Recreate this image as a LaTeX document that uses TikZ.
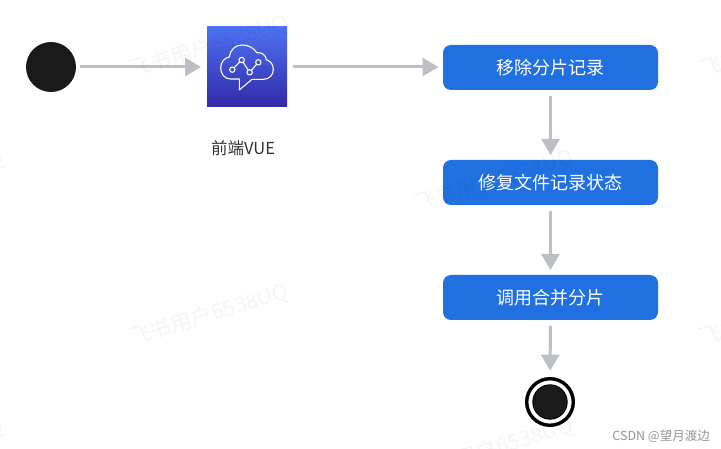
\documentclass[tikz,border=0pt]{standalone}
\usepackage{fontspec}
\setmainfont{Noto Sans CJK SC}
\usetikzlibrary{arrows.meta}
\definecolor{boxblue}{HTML}{2070E2}
\definecolor{arrowgray}{HTML}{BCC0C5}
\definecolor{discblack}{HTML}{1A1A1A}
\definecolor{icontop}{HTML}{4D72F3}
\definecolor{iconbot}{HTML}{3229A8}
\tikzset{
  flowbox/.style={rectangle,rounded corners=8pt,fill=boxblue,minimum width=215pt,minimum height=45pt,inner sep=0pt,outer sep=0pt,text=white,font=\fontsize{18}{20}\selectfont},
  conn/.style={draw=arrowgray,line width=3pt,-{Triangle[length=16pt,width=18pt,fill=arrowgray]}},
  disc/.style={circle,fill=discblack,inner sep=0pt,outer sep=0pt},
  wmark/.style={rotate=17,text=black,opacity=0.04,inner sep=0pt,font=\fontsize{21.5}{23}\selectfont},
  iconline/.style={draw=white,line width=1.1pt,line join=round}
}
\begin{document}
\begin{tikzpicture}[x=1pt,y=-1pt]
\useasboundingbox (0,0) rectangle (721,449);
\clip (0,0) rectangle (721,449);
\fill[white] (0,0) rectangle (721,449);
% main nodes
\node[disc,minimum size=50pt] (start) at (51,67) {};
\node[rectangle,minimum size=80pt,inner sep=0pt,outer sep=0pt,top color=icontop,bottom color=iconbot] (icon) at (247,67) {};
\node[inner sep=0pt,text=black!80,font=\fontsize{16.5}{18}\selectfont] (lbl) at (243,148) {前端VUE};
\node[flowbox] (b1) at (550.5,67.5) {\raisebox{-0.7pt}{移除分片记录}};
\node[flowbox] (b2) at (550.5,182.5) {\raisebox{-0.7pt}{修复文件记录状态}};
\node[flowbox] (b3) at (550.5,297.5) {\raisebox{-0.7pt}{调用合并分片}};
\node[circle,draw=black,line width=3.4pt,fill=white,minimum size=46.6pt,inner sep=0pt,outer sep=0pt] (endring) at (550,402) {};
\node[disc,draw=black,line width=.8pt,minimum size=34.5pt] (enddisc) at (550,402) {};
% icon glyph
\begin{scope}[shift={(190,10)},x=0.3333pt,y=-0.3333pt]
\draw[iconline] (148,240) -- (148,207) -- (122,207)
  .. controls (104,207) and (92,192) .. (92,174)
  .. controls (92,156) and (104,143) .. (118,141)
  .. controls (120,120) and (136,105) .. (156,105)
  .. controls (176,105) and (192,114) .. (200,128)
  .. controls (216,126) and (228,136) .. (229,149)
  .. controls (242,154) and (250,164) .. (250,178)
  .. controls (250,195) and (238,208) .. (220,208)
  -- (186,208) -- cycle;
\draw[iconline] (127,179) -- (155,150) -- (179,187) -- (205,157);
\foreach \p in {(127,179),(155,150),(179,187),(205,157)}
  \draw[iconline,fill=icontop!50!iconbot] \p circle[radius=8];
\end{scope}
% connectors
\draw[conn,shorten <=4pt,shorten >=6pt] (start) -- (icon);
\draw[conn,shorten <=6pt,shorten >=4.5pt] (icon.east) -- (icon.east -| b1.west);
\draw[conn,shorten <=6pt,shorten >=5pt] (b1) -- (b2);
\draw[conn,shorten <=6pt,shorten >=5pt] (b2) -- (b3);
\draw[conn,shorten <=6pt,shorten >=8pt] (b3) -- (endring);
% watermarks
\node[wmark] (w1) at (209,47) {飞书用户6538UQ};
\node[wmark] (w2) at (209,315) {飞书用户6538UQ};
\node[wmark] (w3) at (494,181) {飞书用户6538UQ};
\node[wmark] (w4) at (494,449) {飞书用户6538UQ};
\node[wmark] (w5) at (-76,181) {飞书用户6538UQ};
\node[wmark] (w6) at (-76,449) {飞书用户6538UQ};
\node[wmark] (w7) at (779,47) {飞书用户6538UQ};
\node[wmark] (w8) at (779,315) {飞书用户6538UQ};
% credit
\node[inner sep=0pt,anchor=east,text=black!42,font=\fontsize{12.5}{14}\selectfont] (csdn) at (710,436) {CSDN @望月渡边};
\end{tikzpicture}
\end{document}
